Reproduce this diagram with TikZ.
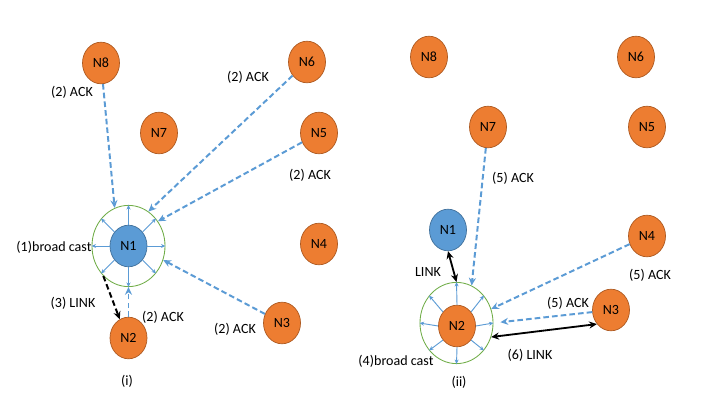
\documentclass[tikz,border=0pt]{standalone}
\usepackage{fontspec}
\setmainfont{Carlito}
\usetikzlibrary{shapes.geometric,arrows.meta}
\definecolor{orfill}{HTML}{ED7D31}
\definecolor{ordraw}{HTML}{AE5A21}
\definecolor{blfill}{HTML}{5B9BD5}
\definecolor{bldraw}{HTML}{41719C}
\definecolor{ringgreen}{HTML}{70AD47}
\definecolor{ackblue}{HTML}{5B9BD5}
\tikzset{
  onode/.style={ellipse, draw=ordraw, fill=orfill, line width=0.5pt, minimum width=0.925cm, minimum height=1.04cm, inner sep=0pt, font=\fontsize{10}{12}\selectfont},
  bnode/.style={onode, draw=bldraw, fill=blfill},
  ring/.style={ellipse, draw=ringgreen, line width=0.6pt, minimum width=1.825cm, minimum height=2.03cm, inner sep=0pt},
  lbl/.style={font=\fontsize{10}{12}\selectfont, inner sep=0pt},
  ack/.style={draw=ackblue, line width=1.4pt, dash pattern=on 4pt off 2.2pt, -{Stealth[length=5.5pt,width=5pt]}},
  bcast/.style={draw=ackblue, line width=0.65pt, -{Stealth[length=3.2pt,width=2.8pt]}},
  linkd/.style={draw=black, line width=1.4pt, dash pattern=on 4pt off 2.2pt, -{Stealth[length=5.5pt,width=5pt]}},
  links/.style={draw=black, line width=1.3pt, {Stealth[length=5.5pt,width=5pt]}-{Stealth[length=5.5pt,width=5pt]}}
}
\begin{document}
\begin{tikzpicture}[x=0.025cm,y=-0.025cm]
\useasboundingbox[fill=white] (0,0) rectangle (720,405);
% ---------- panel (i) ----------
\node[ring] (ringL) at (128.5,246) {};
\node[bnode] (n1L) at (128.5,246) {N1};
\node[onode] (n8L) at (101,63) {N8};
\node[onode] (n7L) at (159,133) {N7};
\node[onode] (n6L) at (307,62) {N6};
\node[onode] (n5L) at (319,133) {N5};
\node[onode] (n4L) at (319,244) {N4};
\node[onode] (n3L) at (282,323) {N3};
\node[onode] (n2L) at (128.5,338) {N2};
\foreach \a in {0,45,...,315} \draw[bcast] (n1L.\a) -- (ringL.\a);
\draw[ack] (n8L) -- (ringL.110);
\draw[ack] (n6L) -- (ringL.60);
\draw[ack] (n5L) -- (ringL.40);
\draw[ack] (n3L) -- (ringL.-22);
\draw[ack] (n2L) -- (ringL.south);
\draw[linkd] (ringL.-130) -- (n2L.115);
\node[lbl] (t1) at (72,92) {(2) ACK};
\node[lbl] (t2) at (248,77) {(2) ACK};
\node[lbl] (t3) at (310,175) {(2) ACK};
\node[lbl] (t4) at (54,247) {(1)broad cast};
\node[lbl] (t5) at (73,303) {(3) LINK};
\node[lbl] (t6) at (163,317) {(2) ACK};
\node[lbl] (t7) at (235,329) {(2) ACK};
\node[lbl] (t8) at (127,381) {(i)};
% ---------- panel (ii) ----------
\node[ring] (ringR) at (456.5,323) {};
\node[onode] (n2R) at (457,326) {N2};
\node[onode] (n8R) at (429,57) {N8};
\node[onode] (n6R) at (636,57) {N6};
\node[onode] (n7R) at (488,127) {N7};
\node[onode] (n5R) at (647,127) {N5};
\node[bnode] (n1R) at (448,230) {N1};
\node[onode] (n4R) at (647,236) {N4};
\node[onode] (n3R) at (611,310) {N3};
\foreach \a in {0,45,...,315} \draw[bcast] (n2R.\a) -- (ringR.\a);
\draw[ack] (n7R) -- (ringR.68);
\draw[ack] (n4R) -- (ringR.22);
\draw[ack, shorten >=5pt] (n3R) -- (ringR.east);
\draw[links] (n1R.south) -- (ringR.north);
\draw[links] (ringR.-22) -- (n3R.-135);
\node[lbl] (r1) at (513,178) {(5) ACK};
\node[lbl] (r2) at (428,272) {LINK};
\node[lbl] (r3) at (650,275) {(5) ACK};
\node[lbl] (r4) at (568,303) {(5) ACK};
\node[lbl] (r5) at (530,355) {(6) LINK};
\node[lbl] (r6) at (396,361) {(4)broad cast};
\node[lbl] (r7) at (459,382) {(ii)};
\end{tikzpicture}
\end{document}
